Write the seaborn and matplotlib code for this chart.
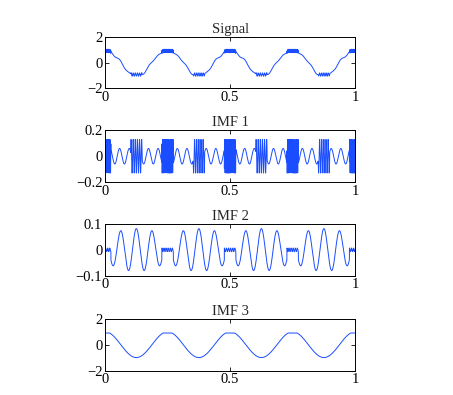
import numpy as np
import matplotlib
matplotlib.use("Agg")
import matplotlib.pyplot as plt
import seaborn as sns

# ---- data parameters ----
titles = ["Signal", "IMF 1", "IMF 2", "IMF 3"]
ylims = [(-2, 2), (-0.2, 0.2), (-0.1, 0.1), (-2, 2)]
yticks = [[-2, 0, 2], [-0.2, 0, 0.2], [-0.1, 0, 0.1], [-2, 0, 2]]
yticklabels = [["\u22122", "0", "2"], ["\u22120.2", "0", "0.2"],
               ["\u22120.1", "0", "0.1"], ["\u22122", "0", "2"]]
xticks = [0, 0.5, 1]
xticklabels = ["0", "0.5", "1"]

n_samples = 4001
base_cycles = 4            # slow component cycles over [0, 1]
base_cap = 0.9             # flattened crest level of IMF 3
peak_centres = [0.0, 0.25, 0.5, 0.75, 1.0]       # dense bursts
trough_centres = [0.125, 0.375, 0.625, 0.875]    # striped bursts
burst_halfwidth = 0.023
peak_burst_freq = 310.0
trough_burst_freq = 118.0
burst_amp = 0.13
mix_freq = 26.0            # mode-mixing wave in IMF 1
mix_amp = 0.06
imf2_freq = 16.0
imf2_amp = 0.082
imf2_wiggle_amp = 0.007

# ---- build series ----
t = np.linspace(0, 1, n_samples)
imf3 = np.minimum(np.cos(2 * np.pi * base_cycles * t), base_cap)

peak_mask = np.zeros_like(t, dtype=bool)
for c in peak_centres:
    peak_mask |= np.abs(t - c) <= burst_halfwidth
trough_mask = np.zeros_like(t, dtype=bool)
for c in trough_centres:
    trough_mask |= np.abs(t - c) <= burst_halfwidth
quiet = ~(peak_mask | trough_mask)

imf1 = np.zeros_like(t)
imf1[peak_mask] = burst_amp * np.sin(2 * np.pi * peak_burst_freq * t[peak_mask])
imf1[trough_mask] = burst_amp * np.sin(2 * np.pi * trough_burst_freq * t[trough_mask])
imf1[quiet] = mix_amp * np.sin(2 * np.pi * mix_freq * (t[quiet] - 0.01))

env = np.abs(np.sin(2 * np.pi * 2 * t)) ** 0.3
imf2 = imf2_amp * env * np.cos(2 * np.pi * imf2_freq * (t - 0.125))
imf2[peak_mask] = imf2_wiggle_amp * np.sin(2 * np.pi * 120 * t[peak_mask])

signal = imf1 + imf2 + imf3
series = [signal, imf1, imf2, imf3]

# ---- plot ----
sns.set_theme(style="white")
plt.rcParams["font.family"] = ["Liberation Serif", "DejaVu Serif"]
plt.rcParams["axes.unicode_minus"] = True

fig = plt.figure(figsize=(4.53, 3.95), dpi=100)
left, width, height = 0.232, 0.552, 0.131
bottoms = [0.776, 0.539, 0.302, 0.062]
blue = (0.1, 0.3, 1.0)

for i in range(4):
    ax = fig.add_axes([left, bottoms[i], width, height])
    sns.lineplot(x=t, y=series[i], ax=ax, color=blue, linewidth=0.7,
                 estimator=None, sort=False)
    ax.set_xlim(0, 1)
    ax.set_ylim(*ylims[i])
    ax.set_xticks(xticks)
    ax.set_xticklabels(xticklabels)
    ax.set_yticks(yticks[i])
    ax.set_yticklabels(yticklabels[i])
    ax.set_title(titles[i], fontsize=10.5, pad=3)
    ax.tick_params(direction="in", length=3, width=0.6, labelsize=10.5,
                   top=True, right=True, bottom=True, left=True, pad=2,
                   colors="black")
    for s in ax.spines.values():
        s.set_color("black")
        s.set_linewidth(0.7)
    ax.set_facecolor("white")

fig.savefig("out.png", dpi=100, facecolor="white")
